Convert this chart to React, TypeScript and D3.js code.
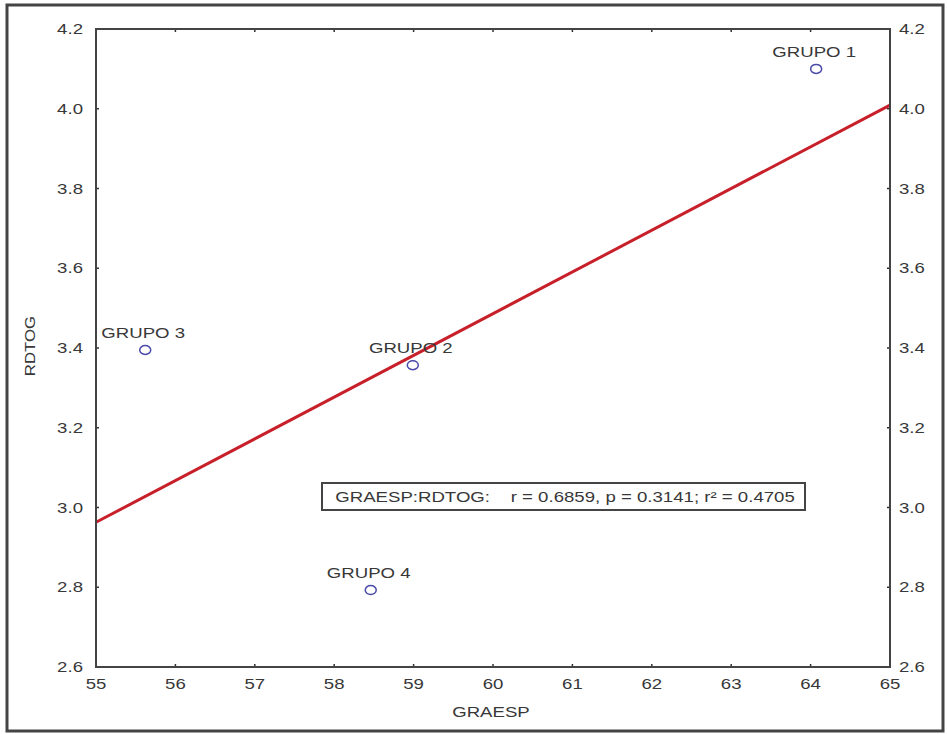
import React from "react";
import * as d3 from "d3";

const groupNames = ["GRUPO 1", "GRUPO 2", "GRUPO 3", "GRUPO 4"];
const graesp = [64.07, 58.99, 55.62, 58.46];
const rdtog = [4.1, 3.357, 3.395, 2.793];
const xTicks = [55, 56, 57, 58, 59, 60, 61, 62, 63, 64, 65];
const yTicks = [2.6, 2.8, 3.0, 3.2, 3.4, 3.6, 3.8, 4.0, 4.2];
const statsText = "GRAESP:RDTOG:    r = 0.6859, p = 0.3141; r\u00B2 = 0.4705";

const SX = 1.33;
const tc = "#383838";

function T({ x, y, anchor = "start", size = 14, rotate = 0, sx = SX, children }: any) {
  return (
    <text
      transform={`translate(${x},${y}) rotate(${rotate}) scale(${sx},1)`}
      textAnchor={anchor}
      fontSize={size}
      fill={tc}
      xmlSpace="preserve"
    >
      {children}
    </text>
  );
}

export default function App() {
  const W = 948, H = 734;
  const L = 96, R = 890, TOP = 29, B = 667;
  const x = d3.scaleLinear().domain([55, 65]).range([L, R]);
  const y = d3.scaleLinear().domain([2.6, 4.2]).range([B, TOP]);

  const mx = d3.mean(graesp)!;
  const my = d3.mean(rdtog)!;
  let sxy = 0, sxx = 0;
  graesp.forEach((v, i) => { sxy += (v - mx) * (rdtog[i] - my); sxx += (v - mx) ** 2; });
  const slope = sxy / sxx;
  const icpt = my - slope * mx;
  const line = d3.line<number>().x(d => x(d)).y(d => y(icpt + slope * d));

  const font = "'Liberation Sans', Arial, sans-serif";

  return (
    <svg width={W} height={H} style={{ position: "absolute", left: 0, top: 0, display: "block" }} fontFamily={font}>
      <rect x={0} y={0} width={W} height={H} fill="#fff" />
      <rect x={7} y={5} width={936} height={726} fill="none" stroke="#444" strokeWidth={3} />
      {xTicks.map(t => (
        <g key={"xt" + t}>
          <line x1={x(t)} x2={x(t)} y1={B} y2={B - 3} stroke="#333" strokeWidth={1.5} />
          <line x1={x(t)} x2={x(t)} y1={TOP} y2={TOP + 3} stroke="#333" strokeWidth={1.5} />
          <T x={x(t)} y={B + 22} anchor="middle">{String(t)}</T>
        </g>
      ))}
      {yTicks.map(t => (
        <g key={"yt" + t}>
          <line x1={L} x2={L + 3} y1={y(t)} y2={y(t)} stroke="#333" strokeWidth={1.5} />
          <line x1={R} x2={R - 3} y1={y(t)} y2={y(t)} stroke="#333" strokeWidth={1.5} />
          <T x={83} y={y(t) + 5} anchor="end">{t.toFixed(1)}</T>
          <T x={899} y={y(t) + 5} anchor="start">{t.toFixed(1)}</T>
        </g>
      ))}
      <path d={line([55, 65])!} stroke="#c8202a" strokeWidth={3} fill="none" />
      <rect x={L} y={TOP} width={R - L} height={B - TOP} fill="none" stroke="#444" strokeWidth={2} />
      {graesp.map((v, i) => (
        <g key={groupNames[i]}>
          <ellipse cx={x(v)} cy={y(rdtog[i])} rx={5.5} ry={4.5} fill="none" stroke="#4a4aa8" strokeWidth={1.5} />
          <T x={x(v) - 2} y={y(rdtog[i]) - 12} anchor="middle">{groupNames[i]}</T>
        </g>
      ))}
      <rect x={322} y={483} width={483} height={27} fill="#fff" stroke="#444" strokeWidth={2} />
      <T x={565} y={502} anchor="middle">{statsText}</T>
      <T x={491} y={717} anchor="middle">GRAESP</T>
      <T x={35} y={346} anchor="middle" rotate={-90} sx={1.2}>RDTOG</T>
    </svg>
  );
}
